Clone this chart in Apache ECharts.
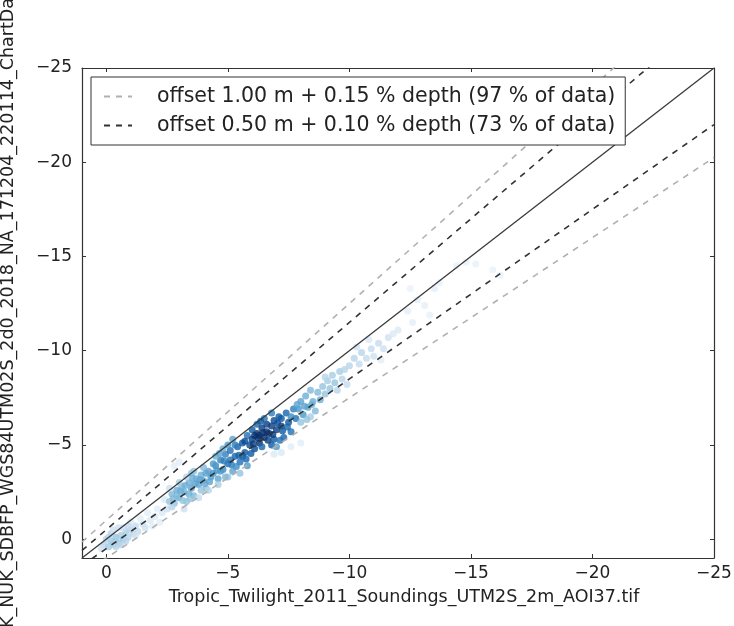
<!DOCTYPE html>
<html>
<head>
<meta charset="utf-8">
<script src="https://cdn.jsdelivr.net/npm/echarts@6/dist/echarts.min.js"></script>
<style>
html,body{margin:0;padding:0;background:#fff;}
#chart{width:734px;height:626px;}
</style>
</head>
<body>
<div id="chart"></div>
<script>
// ---- data ----
const xAxisTitle = 'Tropic_Twilight_2011_Soundings_UTM2S_2m_AOI37.tif';
const yAxisTitle = 'K_NUK_SDBFP_WGS84UTM02S_2d0_2018_NA_171204_220114_ChartDa';
const tickValues = [0, -5, -10, -15, -20, -25];
const axisMin = -25;
const axisMax = 1;

// tolerance bands: offset (m), depth factor (%), share of data (%)
const bandOffsets = [1.00, 0.50];
const bandFactors = [0.15, 0.10];
const bandShares = [97, 73];

// soundings: [x depth, y depth, relative point density]
const ptsShallow = [
  [0.1,0.3,0.3],[-0.1,0.4,0.35],[-0.2,0.1,0.4],[-0.3,0.3,0.35],[-0.4,-0.1,0.4],[-0.5,0.2,0.4],
  [-0.6,-0.2,0.35],[-0.7,0.0,0.4],[-0.8,-0.4,0.35],[-0.9,-0.1,0.3],[-1.0,-0.5,0.3],[-1.1,-0.3,0.3],
  [-1.2,-0.7,0.25],[-1.3,-0.4,0.25],[-1.5,-0.8,0.2],[-1.6,-0.6,0.2],[0.0,0.0,0.3],[-0.2,-0.3,0.3],
  [-0.4,0.4,0.3],[-0.6,0.3,0.3],[-0.3,-0.5,0.2],[-0.8,0.1,0.3],[-1.0,-0.9,0.15],[-0.5,-0.6,0.2],
  [0.2,0.5,0.2],[-0.1,-0.1,0.3],[-0.7,-0.6,0.2],[-1.4,-1.1,0.1],[-0.9,-0.7,0.25],[-1.2,-0.2,0.2]
];
const ptsGap = [
  [-1.8,-1.0,0.15],[-2.0,-1.2,0.15],[-2.2,-0.9,0.1],[-2.3,-1.4,0.15],[-1.9,-0.7,0.1],
  [-2.5,-1.6,0.2],[-2.1,-1.6,0.1],[-1.7,-1.4,0.1],[-2.4,-2.1,0.15]
];
const ptsMid = [
  [-2.6,-2.0,0.4],[-2.7,-2.4,0.45],[-2.8,-1.9,0.4],[-2.9,-2.6,0.5],[-3.0,-2.2,0.5],[-3.1,-2.8,0.45],
  [-3.2,-2.5,0.5],[-3.3,-2.0,0.4],[-3.4,-3.0,0.5],[-3.5,-2.7,0.55],[-3.6,-2.3,0.45],[-3.7,-3.2,0.5],
  [-3.8,-2.9,0.55],[-3.9,-3.4,0.5],[-4.0,-3.1,0.55],[-4.1,-2.7,0.45],[-4.2,-3.6,0.55],[-4.3,-3.3,0.6],
  [-2.7,-1.7,0.3],[-3.0,-3.0,0.35],[-3.3,-3.3,0.3],[-3.6,-3.6,0.4],[-4.0,-3.8,0.45],[-2.6,-2.7,0.2],
  [-2.8,-3.9,0.1],[-3.0,-4.1,0.1],[-3.2,-1.6,0.2],[-3.8,-2.2,0.25],[-4.2,-2.6,0.3],[-3.5,-3.5,0.4],
  [-2.9,-2.3,0.45],[-3.4,-2.4,0.5],[-3.9,-2.6,0.4],[-4.1,-3.5,0.55],
  [-2.75,-2.15,0.45],[-3.05,-2.55,0.5],[-3.25,-2.85,0.5],[-3.45,-2.15,0.4],[-3.65,-2.95,0.55],
  [-3.85,-3.15,0.55],[-4.05,-2.95,0.5],[-4.25,-3.05,0.55],[-3.15,-2.05,0.4],[-3.55,-3.25,0.5]
];
const ptsUpper = [
  [-4.4,-3.5,0.6],[-4.5,-3.9,0.65],[-4.6,-3.2,0.55],[-4.7,-4.2,0.7],[-4.8,-3.7,0.65],[-4.9,-4.5,0.7],
  [-5.0,-4.0,0.75],[-5.1,-4.7,0.75],[-5.2,-3.6,0.55],[-5.3,-4.4,0.8],[-5.4,-4.9,0.8],[-5.5,-4.1,0.75],
  [-5.6,-5.1,0.85],[-5.7,-4.6,0.85],[-5.8,-3.9,0.6],[-5.9,-5.0,0.9],[-4.5,-4.4,0.5],[-4.8,-4.8,0.5],
  [-5.0,-5.0,0.6],[-5.2,-5.3,0.55],[-4.6,-2.9,0.35],[-5.0,-3.3,0.4],[-5.5,-3.5,0.4],[-4.4,-4.0,0.6],
  [-4.9,-3.3,0.45],[-5.3,-5.0,0.7],[-5.6,-4.4,0.85],[-5.8,-5.5,0.75],[-4.7,-3.6,0.6],[-5.1,-4.2,0.75],
  [-4.55,-3.65,0.6],[-4.85,-4.15,0.7],[-5.15,-3.95,0.7],[-5.45,-4.45,0.8],[-5.75,-4.25,0.8],
  [-5.35,-3.85,0.65],[-4.65,-4.55,0.55],[-5.95,-4.55,0.85]
];
const ptsCore = [
  [-6.0,-5.3,0.95],[-6.1,-4.8,0.9],[-6.2,-5.6,1.0],[-6.3,-5.1,1.0],[-6.4,-5.9,0.95],[-6.5,-5.4,1.0],
  [-6.6,-6.1,0.95],[-6.7,-5.6,1.0],[-6.8,-5.0,0.85],[-6.9,-6.3,0.9],[-7.0,-5.8,0.95],[-7.1,-6.5,0.85],
  [-7.2,-6.0,0.9],[-7.3,-5.4,0.8],[-7.4,-6.7,0.8],[-7.5,-6.2,0.85],[-7.6,-5.7,0.75],[-6.0,-5.8,0.85],
  [-6.2,-6.1,0.8],[-6.5,-6.4,0.75],[-6.8,-6.7,0.7],[-6.4,-4.9,0.8],[-6.9,-5.3,0.85],[-6.1,-5.5,1.0],
  [-6.6,-5.7,1.0],[-5.7,-5.2,0.9],[-7.7,-6.9,0.7],[-7.8,-6.4,0.75],[-7.0,-4.9,0.6],[-6.3,-5.5,1.0],
  [-6.8,-6.0,0.95],[-7.2,-6.4,0.85],
  [-6.05,-5.05,0.95],[-6.25,-5.35,1.0],[-6.45,-5.65,1.0],[-6.65,-5.25,0.95],[-6.85,-5.55,0.95],
  [-7.05,-6.15,0.9],[-7.25,-5.75,0.85],[-7.45,-5.95,0.8],[-6.35,-6.25,0.85],[-7.15,-5.25,0.75]
];
const ptsLower = [
  [-7.9,-6.9,0.6],[-8.0,-7.3,0.55],[-8.1,-6.6,0.6],[-8.2,-7.6,0.5],[-8.3,-7.0,0.55],[-8.4,-7.9,0.45],
  [-8.5,-7.3,0.5],[-8.6,-6.8,0.45],[-8.7,-7.8,0.45],[-8.8,-7.4,0.5],[-7.6,-6.5,0.65],[-8.0,-6.2,0.4],
  [-8.4,-6.5,0.35],[-7.2,-4.6,0.15],[-7.6,-4.9,0.1],[-8.0,-5.1,0.1],[-6.9,-4.5,0.15],
  [-7.85,-7.15,0.55],[-8.15,-7.05,0.55],[-8.45,-7.15,0.5],[-8.25,-6.35,0.4]
];
const ptsDeep = [
  [-8.9,-8.1,0.4],[-9.0,-7.7,0.4],[-9.1,-8.4,0.35],[-9.2,-8.0,0.4],[-9.3,-8.7,0.35],[-9.4,-8.3,0.4],
  [-9.5,-7.9,0.3],[-9.6,-8.9,0.35],[-9.7,-8.5,0.3],[-9.8,-9.0,0.3],[-9.9,-8.2,0.25],[-9.0,-8.6,0.3],
  [-10.0,-9.2,0.3],[-10.2,-9.6,0.3],[-10.4,-9.3,0.25],[-10.5,-9.9,0.3],[-10.7,-9.6,0.25],[-10.9,-10.1,0.25],
  [-11.0,-9.7,0.2],[-11.2,-10.4,0.25],[-11.4,-10.1,0.2],[-11.6,-10.7,0.2],[-11.8,-10.9,0.15],[-12.0,-11.1,0.15],
  [-10.3,-10.2,0.2],[-10.8,-10.6,0.15],[-11.3,-9.5,0.1]
];
const ptsSparse = [
  [-12.4,-12.1,0.08],[-12.8,-12.7,0.08],[-13.1,-12.4,0.08],[-13.5,-13.3,0.08],[-13.7,-13.6,0.06],
  [-14.4,-14.5,0.06],[-14.8,-14.7,0.06],[-15.2,-14.6,0.06],[-15.9,-14.3,0.05],[-16.2,-14.0,0.05],
  [-12.6,-11.5,0.08],[-13.3,-11.9,0.06],[-12.5,-13.3,0.05]
];

// ---- chart ----
const FONT = 'DejaVu Sans';
const fmt = v => (v < 0 ? '\u2212' + Math.abs(v) : String(v));
const points = [].concat(ptsShallow, ptsGap, ptsMid, ptsUpper, ptsCore, ptsLower, ptsDeep, ptsSparse);
const bandNames = bandOffsets.map((a, i) =>
  'offset ' + a.toFixed(2) + ' m + ' + bandFactors[i].toFixed(2) + ' % depth (' + bandShares[i] + ' % of data)');
const bandColors = ['#b0b0b0', '#333333'];

const series = [{
  type: 'scatter',
  data: points,
  symbolSize: 7,
  itemStyle: { opacity: 0.8 },
  z: 1,
  silent: true
}, {
  type: 'line',
  data: [[axisMax, axisMax], [axisMin, axisMin]],
  symbol: 'none',
  lineStyle: { color: '#3a3a3a', width: 1.3 },
  z: 3,
  silent: true
}];
bandOffsets.forEach((a, i) => {
  const b = bandFactors[i];
  const up = [[axisMax, axisMax * (1 + b) - a], [axisMin, axisMin * (1 + b) - a]];
  const lo = [[axisMax, axisMax * (1 - b) + a], [axisMin, axisMin * (1 - b) + a]];
  [up, lo].forEach(d => series.push({
    type: 'line', name: bandNames[i], data: d, symbol: 'none', clip: true,
    lineStyle: { color: bandColors[i], width: 1.6, type: [6, 6] },
    itemStyle: { color: bandColors[i] },
    z: 2, silent: true
  }));
});

const axisCommon = {
  type: 'value', min: axisMin, max: axisMax, inverse: true,
  splitLine: { show: false },
  axisLine: { show: true, onZero: false, lineStyle: { color: '#333', width: 1.2 } },
  axisTick: { show: true, inside: true, length: 4, customValues: tickValues, lineStyle: { color: '#333' } },
  axisLabel: { show: true, customValues: tickValues, formatter: fmt, color: '#222', fontFamily: FONT, fontSize: 17 }
};

const chart = echarts.init(document.getElementById('chart'), null, { renderer: 'canvas' });
chart.setOption({
  animation: false,
  backgroundColor: '#fff',
  grid: { left: 82, top: 68, right: 20, bottom: 68, containLabel: false, outerBoundsMode: 'none' },
  visualMap: {
    show: false, type: 'continuous', seriesIndex: 0, dimension: 2, min: 0, max: 1,
    inRange: { color: ['#eef5fc', '#deebf7', '#c6dbef', '#9ecae1', '#6baed6', '#4292c6', '#2171b5', '#08519c', '#08306b'] }
  },
  legend: {
    show: true, orient: 'vertical', left: 91, top: 77,
    data: bandNames,
    itemWidth: 28, itemHeight: 14, itemGap: 8,
    padding: [9, 10, 9, 12],
    borderColor: '#333', borderWidth: 1, backgroundColor: '#fff',
    itemStyle: { color: 'transparent', borderColor: 'transparent', borderWidth: 0 },
    textStyle: { fontFamily: FONT, fontSize: 20.5, color: '#222', padding: [0, 0, 0, 20] },
    selectedMode: false
  },
  xAxis: [
    Object.assign({}, axisCommon, {
      position: 'bottom',
      name: xAxisTitle, nameLocation: 'middle', nameGap: 30,
      nameTextStyle: { fontFamily: FONT, fontSize: 17.5, color: '#222', padding: [0, 0, 0, 12] },
      axisLabel: Object.assign({}, axisCommon.axisLabel, { margin: 7 })
    }),
    Object.assign({}, axisCommon, { position: 'top', axisLabel: { show: false } })
  ],
  yAxis: [
    Object.assign({}, axisCommon, {
      position: 'left',
      name: yAxisTitle, nameLocation: 'middle', nameGap: 65,
      nameTextStyle: { fontFamily: FONT, fontSize: 17.5, color: '#222' },
      axisLabel: Object.assign({}, axisCommon.axisLabel, { margin: 10 })
    }),
    Object.assign({}, axisCommon, { position: 'right', axisLabel: { show: false } })
  ],
  series: series
});
</script>
</body>
</html>
